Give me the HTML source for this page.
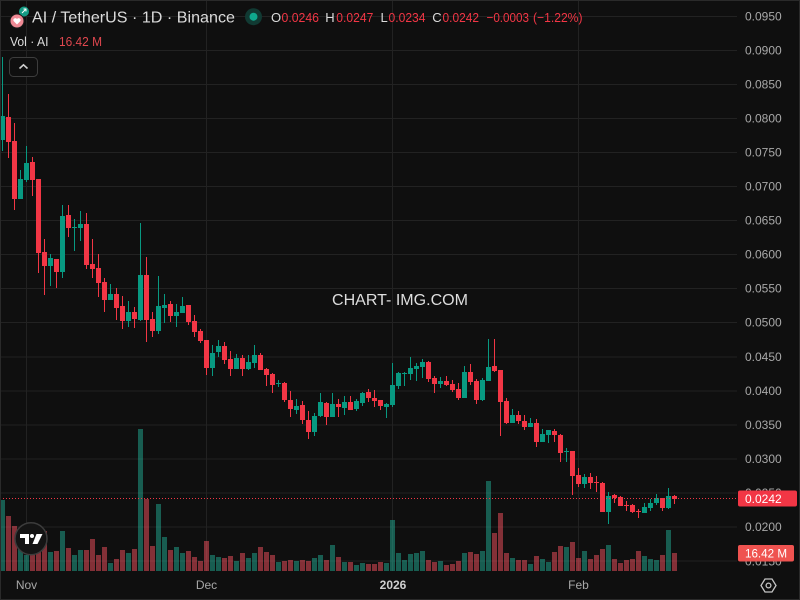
<!DOCTYPE html>
<html>
<head>
<meta charset="utf-8">
<style>
html,body{margin:0;padding:0;background:#0f0f0f;}
svg{display:block;}
text{font-family:"Liberation Sans",sans-serif;}
</style>
</head>
<body>
<svg width="800" height="600" viewBox="0 0 800 600" xmlns="http://www.w3.org/2000/svg">
<rect x="0" y="0" width="800" height="600" fill="#0f0f0f"/>
<!-- grid -->
<g stroke="#222" stroke-width="1">
<line x1="0" y1="16.5" x2="737" y2="16.5"/>
<line x1="0" y1="50.5" x2="737" y2="50.5"/>
<line x1="0" y1="84.5" x2="737" y2="84.5"/>
<line x1="0" y1="118.5" x2="737" y2="118.5"/>
<line x1="0" y1="152.5" x2="737" y2="152.5"/>
<line x1="0" y1="186.5" x2="737" y2="186.5"/>
<line x1="0" y1="220.5" x2="737" y2="220.5"/>
<line x1="0" y1="254.5" x2="737" y2="254.5"/>
<line x1="0" y1="288.5" x2="737" y2="288.5"/>
<line x1="0" y1="322.5" x2="737" y2="322.5"/>
<line x1="0" y1="357" x2="737" y2="357"/>
<line x1="0" y1="391" x2="737" y2="391"/>
<line x1="0" y1="425" x2="737" y2="425"/>
<line x1="0" y1="459" x2="737" y2="459"/>
<line x1="0" y1="493" x2="737" y2="493"/>
<line x1="0" y1="527" x2="737" y2="527"/>
<line x1="0" y1="561" x2="737" y2="561"/>
<line x1="26.5" y1="0" x2="26.5" y2="571"/>
<line x1="206.5" y1="0" x2="206.5" y2="571"/>
<line x1="392.5" y1="0" x2="392.5" y2="571"/>
<line x1="578.5" y1="0" x2="578.5" y2="571"/>
</g>
<!-- volume -->
<path fill="#22ab94" fill-opacity="0.5" d="M0 500h5V571h-5z M18 540h5V571h-5z M24 555h5V571h-5z M48 552h5V571h-5z M60 531h5V571h-5z M72 555h5V571h-5z M78 550h5V571h-5z M108 563h5V571h-5z M126 553h5V571h-5z M138 429h5V571h-5z M156 504h5V571h-5z M162 537h5V571h-5z M174 547h5V571h-5z M180 553h5V571h-5z M210 555h5V571h-5z M216 557h5V571h-5z M234 561h5V571h-5z M246 558h5V571h-5z M252 553h5V571h-5z M276 562h5V571h-5z M294 561h5V571h-5z M312 558h5V571h-5z M318 555h5V571h-5z M330 545h5V571h-5z M342 562h5V571h-5z M354 565h5V571h-5z M360 563h5V571h-5z M384 563h5V571h-5z M390 520h5V571h-5z M396 553h5V571h-5z M402 560h5V571h-5z M408 554h5V571h-5z M414 553h5V571h-5z M420 551h5V571h-5z M438 561h5V571h-5z M462 553h5V571h-5z M480 551h5V571h-5z M486 481h5V571h-5z M510 558h5V571h-5z M528 564h5V571h-5z M540 559h5V571h-5z M546 562h5V571h-5z M564 547h5V571h-5z M582 551h5V571h-5z M606 545h5V571h-5z M642 556h5V571h-5z M648 559h5V571h-5z M654 560h5V571h-5z M666 530h5V571h-5z"/>
<path fill="#f7525f" fill-opacity="0.5" d="M6 516h5V571h-5z M12 526h5V571h-5z M30 545h5V571h-5z M36 540h5V571h-5z M42 531h5V571h-5z M54 551h5V571h-5z M66 548h5V571h-5z M84 550h5V571h-5z M90 539h5V571h-5z M96 555h5V571h-5z M102 547h5V571h-5z M114 559h5V571h-5z M120 550h5V571h-5z M132 549h5V571h-5z M144 499h5V571h-5z M150 546h5V571h-5z M168 550h5V571h-5z M186 551h5V571h-5z M192 557h5V571h-5z M198 561h5V571h-5z M204 541h5V571h-5z M222 558h5V571h-5z M228 556h5V571h-5z M240 553h5V571h-5z M258 547h5V571h-5z M264 552h5V571h-5z M270 555h5V571h-5z M282 561h5V571h-5z M288 560h5V571h-5z M300 560h5V571h-5z M306 561h5V571h-5z M324 560h5V571h-5z M336 557h5V571h-5z M348 562h5V571h-5z M366 564h5V571h-5z M372 564h5V571h-5z M378 562h5V571h-5z M426 560h5V571h-5z M432 562h5V571h-5z M444 565h5V571h-5z M450 564h5V571h-5z M456 561h5V571h-5z M468 552h5V571h-5z M474 554h5V571h-5z M492 533h5V571h-5z M498 513h5V571h-5z M504 553h5V571h-5z M516 560h5V571h-5z M522 560h5V571h-5z M534 556h5V571h-5z M552 552h5V571h-5z M558 546h5V571h-5z M570 542h5V571h-5z M576 558h5V571h-5z M588 559h5V571h-5z M594 555h5V571h-5z M600 549h5V571h-5z M612 559h5V571h-5z M618 563h5V571h-5z M624 560h5V571h-5z M630 559h5V571h-5z M636 551h5V571h-5z M660 555h5V571h-5z M672 553h5V571h-5z"/>
<!-- candles green -->
<path fill="#089981" d="M0 116h5v24h-5z M2 57h1v94h-1z M18 179h5v20h-5z M20 170h1v29h-1z M24 163h5v17h-5z M26 146h1v36h-1z M48 258h5v8h-5z M50 254h1v32h-1z M60 216h5v56h-5z M62 205h1v73h-1z M72 227h5v1h-5z M74 219h1v32h-1z M78 224h5v4h-5z M80 211h1v30h-1z M108 294h5v6h-5z M110 284h1v16h-1z M126 312h5v9h-5z M128 301h1v26h-1z M138 275h5v45h-5z M140 223h1v98h-1z M156 306h5v25h-5z M158 276h1v58h-1z M162 305h5v3h-5z M164 294h1v29h-1z M174 312h5v4h-5z M176 304h1v23h-1z M180 306h5v7h-5z M182 297h1v16h-1z M210 353h5v15h-5z M212 345h1v31h-1z M216 346h5v6h-5z M218 340h1v17h-1z M234 358h5v11h-5z M236 354h1v15h-1z M246 362h5v7h-5z M248 355h1v15h-1z M252 355h5v8h-5z M254 345h1v23h-1z M276 383h5v1h-5z M278 380h1v7h-1z M294 406h5v4h-5z M296 399h1v15h-1z M312 416h5v16h-5z M314 413h1v23h-1z M318 402h5v14h-5z M320 393h1v24h-1z M330 404h5v13h-5z M332 393h1v24h-1z M342 402h5v6h-5z M344 396h1v19h-1z M354 401h5v8h-5z M356 399h1v12h-1z M360 393h5v10h-5z M362 392h1v14h-1z M384 404h5v3h-5z M386 403h1v15h-1z M390 385h5v20h-5z M392 363h1v44h-1z M396 373h5v13h-5z M398 372h1v17h-1z M402 373h5v1h-5z M404 372h1v14h-1z M408 368h5v6h-5z M410 357h1v23h-1z M414 366h5v3h-5z M416 363h1v18h-1z M420 362h5v5h-5z M422 359h1v19h-1z M438 381h5v3h-5z M440 377h1v11h-1z M462 372h5v26h-5z M464 366h1v32h-1z M480 380h5v20h-5z M482 378h1v23h-1z M486 367h5v14h-5z M488 339h1v42h-1z M510 415h5v8h-5z M512 409h1v14h-1z M528 423h5v4h-5z M530 418h1v9h-1z M540 434h5v8h-5z M542 429h1v13h-1z M546 430h5v5h-5z M548 430h1v13h-1z M564 451h5v1h-5z M566 448h1v14h-1z M582 477h5v7h-5z M584 474h1v14h-1z M606 496h5v16h-5z M608 492h1v32h-1z M642 507h5v6h-5z M644 503h1v10h-1z M648 503h5v5h-5z M650 499h1v12h-1z M654 498h5v5h-5z M656 494h1v11h-1z M666 496h5v12h-5z M668 488h1v21h-1z"/>
<!-- candles red -->
<path fill="#f23645" d="M6 117h5v25h-5z M8 94h1v64h-1z M12 141h5v58h-5z M14 123h1v87h-1z M30 162h5v18h-5z M32 157h1v39h-1z M36 179h5v74h-5z M38 179h1v94h-1z M42 252h5v14h-5z M44 239h1v56h-1z M54 259h5v13h-5z M56 259h1v29h-1z M66 215h5v13h-5z M68 205h1v32h-1z M84 224h5v41h-5z M86 213h1v56h-1z M90 264h5v5h-5z M92 239h1v39h-1z M96 268h5v15h-5z M98 254h1v43h-1z M102 282h5v18h-5z M104 278h1v34h-1z M114 294h5v14h-5z M116 288h1v32h-1z M120 306h5v15h-5z M122 296h1v33h-1z M132 312h5v7h-5z M134 307h1v21h-1z M144 275h5v45h-5z M146 257h1v85h-1z M150 319h5v12h-5z M152 312h1v25h-1z M168 304h5v12h-5z M170 301h1v21h-1z M186 305h5v17h-5z M188 305h1v20h-1z M192 321h5v11h-5z M194 315h1v22h-1z M198 331h5v10h-5z M200 329h1v14h-1z M204 340h5v28h-5z M206 340h1v35h-1z M222 346h5v14h-5z M224 342h1v22h-1z M228 359h5v10h-5z M230 351h1v25h-1z M240 358h5v11h-5z M242 355h1v21h-1z M258 355h5v15h-5z M260 353h1v17h-1z M264 369h5v6h-5z M266 368h1v18h-1z M270 374h5v11h-5z M272 373h1v20h-1z M282 383h5v17h-5z M284 382h1v20h-1z M288 400h5v9h-5z M290 391h1v26h-1z M300 405h5v15h-5z M302 401h1v23h-1z M306 420h5v12h-5z M308 411h1v28h-1z M324 403h5v14h-5z M326 402h1v23h-1z M336 404h5v3h-5z M338 399h1v18h-1z M348 402h5v8h-5z M350 396h1v14h-1z M366 392h5v6h-5z M368 389h1v13h-1z M372 398h5v3h-5z M374 390h1v17h-1z M378 400h5v6h-5z M380 400h1v10h-1z M426 362h5v17h-5z M428 361h1v21h-1z M432 378h5v6h-5z M434 376h1v17h-1z M444 381h5v4h-5z M446 376h1v10h-1z M450 384h5v6h-5z M452 380h1v12h-1z M456 389h5v9h-5z M458 383h1v17h-1z M468 372h5v10h-5z M470 364h1v21h-1z M474 381h5v19h-5z M476 379h1v25h-1z M492 366h5v5h-5z M494 339h1v33h-1z M498 370h5v32h-5z M500 370h1v66h-1z M504 401h5v22h-5z M506 398h1v26h-1z M516 415h5v6h-5z M518 411h1v13h-1z M522 421h5v6h-5z M524 415h1v15h-1z M534 423h5v19h-5z M536 419h1v28h-1z M552 431h5v4h-5z M554 429h1v13h-1z M558 435h5v18h-5z M560 434h1v28h-1z M570 451h5v25h-5z M572 451h1v44h-1z M576 475h5v9h-5z M578 468h1v19h-1z M588 477h5v6h-5z M590 473h1v16h-1z M594 482h5v1h-5z M596 476h1v16h-1z M600 483h5v29h-5z M602 482h1v30h-1z M612 495h5v3h-5z M614 494h1v9h-1z M618 497h5v9h-5z M620 496h1v10h-1z M624 505h5v1h-5z M626 501h1v10h-1z M630 505h5v7h-5z M632 504h1v9h-1z M636 511h5v1h-5z M638 509h1v9h-1z M660 498h5v10h-5z M662 498h1v13h-1z M672 496h5v3h-5z M674 495h1v9h-1z"/>
<!-- price line -->
<line x1="0" y1="498.5" x2="738" y2="498.5" stroke="#f23645" stroke-width="1" stroke-dasharray="1 2"/>
<!-- watermark -->
<text x="400" y="305" text-anchor="middle" font-size="16" fill="#dedede" textLength="136" lengthAdjust="spacingAndGlyphs">CHART- IMG.COM</text>
<!-- price axis labels -->
<g font-size="12" fill="#a8a8a8">
<text x="745" y="20.5">0.0950</text>
<text x="745" y="54.5">0.0900</text>
<text x="745" y="88.5">0.0850</text>
<text x="745" y="122.5">0.0800</text>
<text x="745" y="156.5">0.0750</text>
<text x="745" y="190.5">0.0700</text>
<text x="745" y="224.5">0.0650</text>
<text x="745" y="258.5">0.0600</text>
<text x="745" y="292.5">0.0550</text>
<text x="745" y="326.5">0.0500</text>
<text x="745" y="361">0.0450</text>
<text x="745" y="395">0.0400</text>
<text x="745" y="429">0.0350</text>
<text x="745" y="463">0.0300</text>
<text x="745" y="497">0.0250</text>
<text x="745" y="531">0.0200</text>
<text x="745" y="565.5">0.0150</text>
</g>
<!-- last price label -->
<rect x="738" y="490.5" width="59" height="16" rx="2" fill="#f23645"/>
<text x="745" y="503" font-size="12" fill="#ffffff">0.0242</text>
<rect x="738" y="545" width="56" height="16.5" rx="2" fill="#ef5350"/>
<text x="745" y="557.5" font-size="12" fill="#ffffff" textLength="42" lengthAdjust="spacingAndGlyphs">16.42 M</text>
<!-- time axis -->
<g font-size="12" fill="#a8a8a8" text-anchor="middle">
<text x="26.5" y="589">Nov</text>
<text x="206.5" y="589">Dec</text>
<text x="393" y="589" font-weight="bold" fill="#cfcfcf">2026</text>
<text x="578.5" y="589">Feb</text>
</g>
<!-- settings icon -->
<polygon points="761,585.5 765,579 772,579 776,585.5 772,592 765,592" fill="none" stroke="#c4c4c4" stroke-width="1.3"/>
<circle cx="768.5" cy="585.5" r="2.4" fill="none" stroke="#c4c4c4" stroke-width="1.3"/>
<!-- TV logo -->
<circle cx="31" cy="538.7" r="16" fill="#141414" stroke="#3c3c3c" stroke-width="1.5"/>
<path fill="#ffffff" d="M20 534h9v10h-4v-6h-5z"/>
<circle cx="32" cy="536" r="2" fill="#ffffff"/>
<path fill="#ffffff" d="M36.5 534h6l-5 10h-5z"/>
<!-- header -->
<circle cx="24" cy="11.5" r="5" fill="#159b84"/>
<path d="M22 13 l4-4 M23.5 9 h2.5 v2.5" stroke="#ffffff" stroke-width="1" fill="none"/>
<circle cx="17" cy="21" r="7" fill="#ef8a95" stroke="#1a1a1a" stroke-width="1"/>
<path d="M17 24.5 l-3.2-3.2 a1.8 1.8 0 0 1 3.2-2.3 a1.8 1.8 0 0 1 3.2 2.3z" fill="#ffffff"/>
<text x="32" y="22.7" font-size="16" fill="#dbdbdb" textLength="203" lengthAdjust="spacingAndGlyphs">AI / TetherUS · 1D · Binance</text>
<circle cx="253.5" cy="16.7" r="8.5" fill="#113a33"/>
<circle cx="253.5" cy="16.7" r="4" fill="#0fa88d"/>
<g font-size="13">
<text x="271" y="22" fill="#dbdbdb">O</text>
<text x="281.5" y="22" fill="#f23645" textLength="37.5" lengthAdjust="spacingAndGlyphs">0.0246</text>
<text x="325.3" y="22" fill="#dbdbdb">H</text>
<text x="336.3" y="22" fill="#f23645" textLength="37" lengthAdjust="spacingAndGlyphs">0.0247</text>
<text x="380.5" y="22" fill="#dbdbdb">L</text>
<text x="388.5" y="22" fill="#f23645" textLength="37" lengthAdjust="spacingAndGlyphs">0.0234</text>
<text x="432.3" y="22" fill="#dbdbdb">C</text>
<text x="442.5" y="22" fill="#f23645" textLength="36.5" lengthAdjust="spacingAndGlyphs">0.0242</text>
<text x="486.5" y="22" fill="#f23645" textLength="42.5" lengthAdjust="spacingAndGlyphs">−0.0003</text>
<text x="533" y="22" fill="#f23645" textLength="49.5" lengthAdjust="spacingAndGlyphs">(−1.22%)</text>
</g>
<text x="10" y="46" font-size="13" fill="#dbdbdb" textLength="38.5" lengthAdjust="spacingAndGlyphs">Vol · AI</text>
<text x="59" y="46" font-size="13" fill="#e0474f" textLength="43" lengthAdjust="spacingAndGlyphs">16.42 M</text>
<rect x="9.5" y="57.5" width="28" height="19" rx="4" fill="#0f0f0f" stroke="#3d3d3d" stroke-width="1"/>
<polyline points="19.5,68.5 23.5,64.8 27.5,68.5" fill="none" stroke="#d0d0d0" stroke-width="1.6"/>
<!-- frame -->
<rect x="0.5" y="0.5" width="799" height="599" fill="none" stroke="#2a2a2a" stroke-width="1"/>
</svg>
</body>
</html>
